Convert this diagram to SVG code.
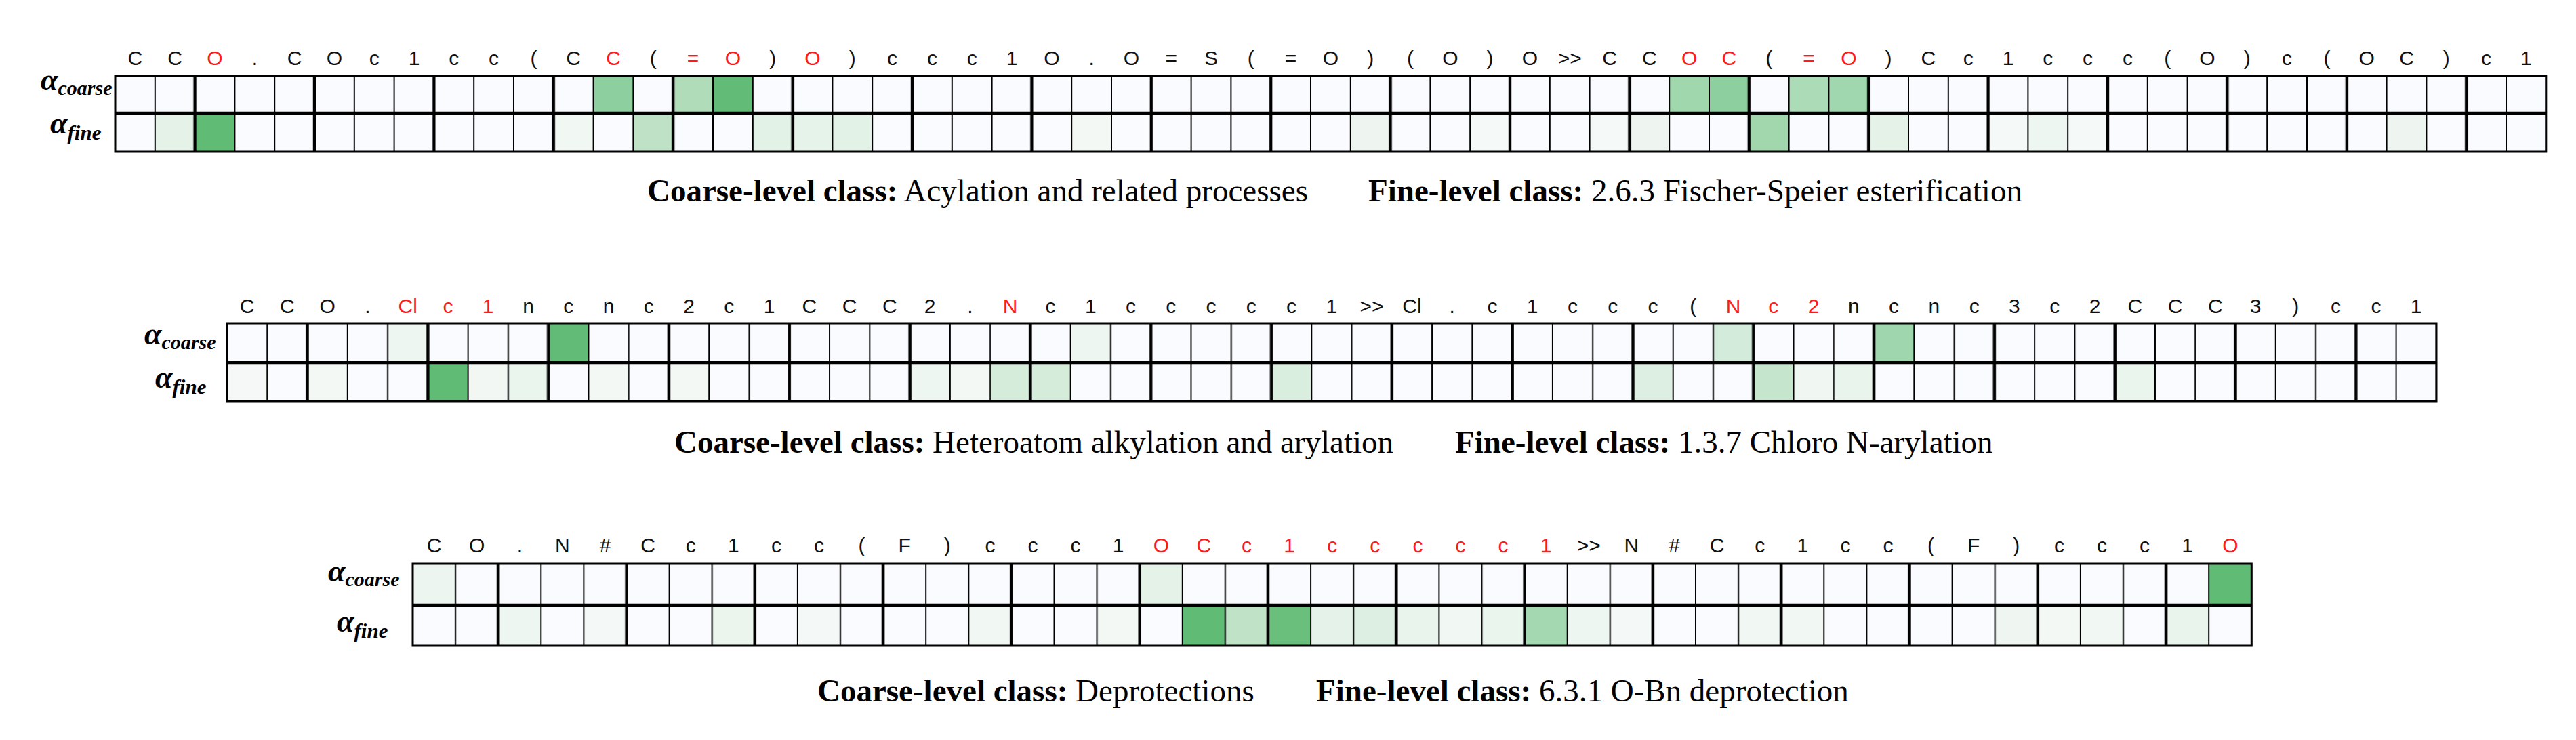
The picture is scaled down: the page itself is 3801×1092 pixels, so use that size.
<svg xmlns="http://www.w3.org/2000/svg" width="3801" height="1092" viewBox="0 0 3801 1092">
<style>
.tok{font-family:"Liberation Sans",Arial,sans-serif;font-size:30px;fill:#111;text-anchor:middle}
.r{fill:#ff1a1a}
.cap{font-family:"Liberation Serif","Times New Roman",serif;font-size:47px;fill:#000}
.b{font-weight:bold}
.al{font-family:"Liberation Serif","Times New Roman",serif;font-weight:bold;font-style:italic;font-size:46px;fill:#000}
.sub{font-family:"Liberation Serif","Times New Roman",serif;font-style:italic;font-size:30px;fill:#000}
.bg{fill:#fafbfe}
.frame{fill:none;stroke:#000;stroke-width:3}
.mid{stroke:#000;stroke-width:4.5}
</style>
<defs>
<pattern id="p1" patternUnits="userSpaceOnUse" x="170" y="0" width="176.4" height="10"><rect x="0" y="0" width="1" height="10"/><rect x="57.8" y="0" width="2" height="10"/><rect x="115.4" y="0" width="4.4" height="10"/><rect x="175.4" y="0" width="1" height="10"/></pattern>
<pattern id="p2" patternUnits="userSpaceOnUse" x="335" y="0" width="177.81" height="10"><rect x="0" y="0" width="1" height="10"/><rect x="58.27" y="0" width="2" height="10"/><rect x="116.34" y="0" width="4.4" height="10"/><rect x="176.81" y="0" width="1" height="10"/></pattern>
<pattern id="p3" patternUnits="userSpaceOnUse" x="609" y="0" width="189.3" height="10"><rect x="0" y="0" width="1" height="10"/><rect x="62.1" y="0" width="2" height="10"/><rect x="124" y="0" width="4.4" height="10"/><rect x="188.3" y="0" width="1" height="10"/></pattern>
</defs>
<rect width="3801" height="1092" fill="#fff"/>

<g id="row1">
<text class="al" x="60" y="133">α<tspan class="sub" dy="7" textLength="80" lengthAdjust="spacingAndGlyphs">coarse</tspan></text>
<text class="al" x="74" y="197">α<tspan class="sub" dy="9" textLength="50" lengthAdjust="spacingAndGlyphs">fine</tspan></text>
<rect class="bg" x="170" y="112" width="3586.8" height="112"/>
<g id="r1c">
<rect x="875.6" y="112" width="58.8" height="55" fill="#8ecf9f"/>
<rect x="993.2" y="112" width="58.8" height="55" fill="#b0dcb9"/>
<rect x="1052" y="112" width="58.8" height="55" fill="#62bc77"/>
<rect x="2463.2" y="112" width="58.8" height="55" fill="#a0d7ad"/>
<rect x="2522" y="112" width="58.8" height="55" fill="#8dcf9e"/>
<rect x="2639.6" y="112" width="58.8" height="55" fill="#acdbb7"/>
<rect x="2698.4" y="112" width="58.8" height="55" fill="#a1d7ae"/>
</g>
<g id="r1f">
<rect x="228.8" y="167" width="58.8" height="57" fill="#e4f2e8"/>
<rect x="287.6" y="167" width="58.8" height="57" fill="#60bb75"/>
<rect x="816.8" y="167" width="58.8" height="57" fill="#f1f7f3"/>
<rect x="934.4" y="167" width="58.8" height="57" fill="#bfe2c7"/>
<rect x="1110.8" y="167" width="58.8" height="57" fill="#e3f2e7"/>
<rect x="1169.6" y="167" width="58.8" height="57" fill="#e6f3ea"/>
<rect x="1228.4" y="167" width="58.8" height="57" fill="#e3f2e7"/>
<rect x="1581.2" y="167" width="58.8" height="57" fill="#f3f8f5"/>
<rect x="1992.8" y="167" width="58.8" height="57" fill="#eef5f0"/>
<rect x="2169.2" y="167" width="58.8" height="57" fill="#f5f9f7"/>
<rect x="2345.6" y="167" width="58.8" height="57" fill="#f5f9f7"/>
<rect x="2404.4" y="167" width="58.8" height="57" fill="#eef5f0"/>
<rect x="2580.8" y="167" width="58.8" height="57" fill="#a2d7ae"/>
<rect x="2757.2" y="167" width="58.8" height="57" fill="#e4f2e8"/>
<rect x="2933.6" y="167" width="58.8" height="57" fill="#f5f9f7"/>
<rect x="2992.4" y="167" width="58.8" height="57" fill="#eef6f1"/>
<rect x="3051.2" y="167" width="58.8" height="57" fill="#f5f9f7"/>
<rect x="3521.6" y="167" width="58.8" height="57" fill="#eef5f0"/>
</g>
<rect x="170" y="112" width="3586.8" height="112" fill="url(#p1)"/>
<line class="mid" x1="170" y1="167" x2="3756.8" y2="167"/>
<rect class="frame" x="170" y="112" width="3586.8" height="112"/>
<text class="tok" y="96"><tspan x="199.4">C</tspan><tspan x="258.2">C</tspan><tspan x="317" class="r">O</tspan><tspan x="375.8">.</tspan><tspan x="434.6">C</tspan><tspan x="493.4">O</tspan><tspan x="552.2">c</tspan><tspan x="611">1</tspan><tspan x="669.8">c</tspan><tspan x="728.6">c</tspan><tspan x="787.4">(</tspan><tspan x="846.2">C</tspan><tspan x="905" class="r">C</tspan><tspan x="963.8">(</tspan><tspan x="1022.6" class="r">=</tspan><tspan x="1081.4" class="r">O</tspan><tspan x="1140.2">)</tspan><tspan x="1199" class="r">O</tspan><tspan x="1257.8">)</tspan><tspan x="1316.6">c</tspan><tspan x="1375.4">c</tspan><tspan x="1434.2">c</tspan><tspan x="1493">1</tspan><tspan x="1551.8">O</tspan><tspan x="1610.6">.</tspan><tspan x="1669.4">O</tspan><tspan x="1728.2">=</tspan><tspan x="1787">S</tspan><tspan x="1845.8">(</tspan><tspan x="1904.6">=</tspan><tspan x="1963.4">O</tspan><tspan x="2022.2">)</tspan><tspan x="2081">(</tspan><tspan x="2139.8">O</tspan><tspan x="2198.6">)</tspan><tspan x="2257.4">O</tspan><tspan x="2316.2">&gt;&gt;</tspan><tspan x="2375">C</tspan><tspan x="2433.8">C</tspan><tspan x="2492.6" class="r">O</tspan><tspan x="2551.4" class="r">C</tspan><tspan x="2610.2">(</tspan><tspan x="2669" class="r">=</tspan><tspan x="2727.8" class="r">O</tspan><tspan x="2786.6">)</tspan><tspan x="2845.4">C</tspan><tspan x="2904.2">c</tspan><tspan x="2963">1</tspan><tspan x="3021.8">c</tspan><tspan x="3080.6">c</tspan><tspan x="3139.4">c</tspan><tspan x="3198.2">(</tspan><tspan x="3257">O</tspan><tspan x="3315.8">)</tspan><tspan x="3374.6">c</tspan><tspan x="3433.4">(</tspan><tspan x="3492.2">O</tspan><tspan x="3551">C</tspan><tspan x="3609.8">)</tspan><tspan x="3668.6">c</tspan><tspan x="3727.4">1</tspan></text>
<text class="cap" x="955" y="297"><tspan class="b">Coarse-level class:</tspan> Acylation and related processes</text>
<text class="cap" x="2019" y="297"><tspan class="b">Fine-level class:</tspan> 2.6.3 Fischer-Speier esterification</text>
</g>

<g id="row2">
<text class="al" x="213" y="508">α<tspan class="sub" dy="7" textLength="80" lengthAdjust="spacingAndGlyphs">coarse</tspan></text>
<text class="al" x="229" y="572">α<tspan class="sub" dy="9" textLength="50" lengthAdjust="spacingAndGlyphs">fine</tspan></text>
<rect class="bg" x="335" y="477" width="3260" height="115"/>
<rect x="572.1" y="477" width="59.27" height="58" fill="#eef6f1"/>
<rect x="809.2" y="477" width="59.27" height="58" fill="#62bc77"/>
<rect x="1579.7" y="477" width="59.27" height="58" fill="#eef6f1"/>
<rect x="2528" y="477" width="59.27" height="58" fill="#d3ebda"/>
<rect x="2765" y="477" width="59.27" height="58" fill="#9fd6ad"/>
<rect x="335" y="535" width="59.27" height="57" fill="#f5f8f7"/>
<rect x="453.6" y="535" width="59.27" height="57" fill="#f3f8f5"/>
<rect x="631.4" y="535" width="59.27" height="57" fill="#60bb75"/>
<rect x="690.6" y="535" width="59.27" height="57" fill="#f2f7f4"/>
<rect x="749.9" y="535" width="59.27" height="57" fill="#eaf5ee"/>
<rect x="868.4" y="535" width="59.27" height="57" fill="#f3f8f5"/>
<rect x="987" y="535" width="59.27" height="57" fill="#f3f8f5"/>
<rect x="1342.6" y="535" width="59.27" height="57" fill="#eef6f1"/>
<rect x="1401.9" y="535" width="59.27" height="57" fill="#f3f8f5"/>
<rect x="1461.1" y="535" width="59.27" height="57" fill="#d5ecdb"/>
<rect x="1520.4" y="535" width="59.27" height="57" fill="#d5ecdb"/>
<rect x="1876" y="535" width="59.27" height="57" fill="#d9eedf"/>
<rect x="2409.4" y="535" width="59.27" height="57" fill="#dcefe2"/>
<rect x="2587.2" y="535" width="59.27" height="57" fill="#c5e5cd"/>
<rect x="2646.5" y="535" width="59.27" height="57" fill="#f0f7f3"/>
<rect x="2705.8" y="535" width="59.27" height="57" fill="#e8f4ec"/>
<rect x="3120.7" y="535" width="59.27" height="57" fill="#eaf5ee"/>
<rect x="335" y="477" width="3260" height="115" fill="url(#p2)"/>
<line class="mid" x1="335" y1="535" x2="3595" y2="535"/>
<rect class="frame" x="335" y="477" width="3260" height="115"/>
<text class="tok" y="462"><tspan x="364.6">C</tspan><tspan x="423.9">C</tspan><tspan x="483.2">O</tspan><tspan x="542.4">.</tspan><tspan x="601.7" class="r">Cl</tspan><tspan x="661" class="r">c</tspan><tspan x="720.2" class="r">1</tspan><tspan x="779.5">n</tspan><tspan x="838.8">c</tspan><tspan x="898">n</tspan><tspan x="957.3">c</tspan><tspan x="1016.6">2</tspan><tspan x="1075.8">c</tspan><tspan x="1135.1">1</tspan><tspan x="1194.4">C</tspan><tspan x="1253.6">C</tspan><tspan x="1312.9">C</tspan><tspan x="1372.2">2</tspan><tspan x="1431.5">.</tspan><tspan x="1490.7" class="r">N</tspan><tspan x="1550">c</tspan><tspan x="1609.3">1</tspan><tspan x="1668.5">c</tspan><tspan x="1727.8">c</tspan><tspan x="1787.1">c</tspan><tspan x="1846.3">c</tspan><tspan x="1905.6">c</tspan><tspan x="1964.9">1</tspan><tspan x="2024.1">&gt;&gt;</tspan><tspan x="2083.4">Cl</tspan><tspan x="2142.7">.</tspan><tspan x="2202">c</tspan><tspan x="2261.2">1</tspan><tspan x="2320.5">c</tspan><tspan x="2379.8">c</tspan><tspan x="2439">c</tspan><tspan x="2498.3">(</tspan><tspan x="2557.6" class="r">N</tspan><tspan x="2616.8" class="r">c</tspan><tspan x="2676.1" class="r">2</tspan><tspan x="2735.4">n</tspan><tspan x="2794.6">c</tspan><tspan x="2853.9">n</tspan><tspan x="2913.2">c</tspan><tspan x="2972.4">3</tspan><tspan x="3031.7">c</tspan><tspan x="3091">2</tspan><tspan x="3150.3">C</tspan><tspan x="3209.5">C</tspan><tspan x="3268.8">C</tspan><tspan x="3328.1">3</tspan><tspan x="3387.3">)</tspan><tspan x="3446.6">c</tspan><tspan x="3505.9">c</tspan><tspan x="3565.1">1</tspan></text>
<text class="cap" x="995" y="668"><tspan class="b">Coarse-level class:</tspan> Heteroatom alkylation and arylation</text>
<text class="cap" x="2147" y="668"><tspan class="b">Fine-level class:</tspan> 1.3.7 Chloro N-arylation</text>
</g>

<g id="row3">
<text class="al" x="484" y="858">α<tspan class="sub" dy="7" textLength="80" lengthAdjust="spacingAndGlyphs">coarse</tspan></text>
<text class="al" x="497" y="932">α<tspan class="sub" dy="9" textLength="50" lengthAdjust="spacingAndGlyphs">fine</tspan></text>
<rect class="bg" x="609" y="832" width="2713.3" height="121"/>
<rect x="609" y="832" width="63.1" height="61" fill="#ecf5ef"/>
<rect x="1681.8" y="832" width="63.1" height="61" fill="#e4f2e8"/>
<rect x="3259.2" y="832" width="63.1" height="61" fill="#60bb75"/>
<rect x="735.2" y="893" width="63.1" height="60" fill="#eef6f1"/>
<rect x="861.4" y="893" width="63.1" height="60" fill="#f4f8f6"/>
<rect x="1050.8" y="893" width="63.1" height="60" fill="#ebf5ee"/>
<rect x="1177" y="893" width="63.1" height="60" fill="#f4f8f6"/>
<rect x="1429.4" y="893" width="63.1" height="60" fill="#f1f7f3"/>
<rect x="1618.6" y="893" width="63.1" height="60" fill="#f3f8f5"/>
<rect x="1744.8" y="893" width="63.1" height="60" fill="#60bb75"/>
<rect x="1808" y="893" width="63.1" height="60" fill="#c0e3c8"/>
<rect x="1871" y="893" width="63.1" height="60" fill="#6abf7d"/>
<rect x="1934.2" y="893" width="63.1" height="60" fill="#e5f2e9"/>
<rect x="1997.2" y="893" width="63.1" height="60" fill="#dcefe2"/>
<rect x="2060.4" y="893" width="63.1" height="60" fill="#e8f4ec"/>
<rect x="2123.4" y="893" width="63.1" height="60" fill="#f1f7f3"/>
<rect x="2186.6" y="893" width="63.1" height="60" fill="#eaf5ee"/>
<rect x="2249.6" y="893" width="63.1" height="60" fill="#a4d8b0"/>
<rect x="2312.8" y="893" width="63.1" height="60" fill="#eef6f1"/>
<rect x="2375.8" y="893" width="63.1" height="60" fill="#f4f8f6"/>
<rect x="2565.2" y="893" width="63.1" height="60" fill="#f1f7f3"/>
<rect x="2628.2" y="893" width="63.1" height="60" fill="#f1f7f3"/>
<rect x="2943.8" y="893" width="63.1" height="60" fill="#eff6f1"/>
<rect x="3006.8" y="893" width="63.1" height="60" fill="#f3f8f5"/>
<rect x="3070" y="893" width="63.1" height="60" fill="#f1f7f3"/>
<rect x="3196.2" y="893" width="63.1" height="60" fill="#e8f4ec"/>
<rect x="609" y="832" width="2713.3" height="121" fill="url(#p3)"/>
<line class="mid" x1="609" y1="893" x2="3322.3" y2="893"/>
<rect class="frame" x="609" y="832" width="2713.3" height="121"/>
<text class="tok" y="815"><tspan x="640.6">C</tspan><tspan x="703.7">O</tspan><tspan x="766.8">.</tspan><tspan x="829.9">N</tspan><tspan x="893">#</tspan><tspan x="956.1">C</tspan><tspan x="1019.2">c</tspan><tspan x="1082.3">1</tspan><tspan x="1145.4">c</tspan><tspan x="1208.5">c</tspan><tspan x="1271.6">(</tspan><tspan x="1334.7">F</tspan><tspan x="1397.8">)</tspan><tspan x="1460.9">c</tspan><tspan x="1524">c</tspan><tspan x="1587.1">c</tspan><tspan x="1650.2">1</tspan><tspan x="1713.3" class="r">O</tspan><tspan x="1776.4" class="r">C</tspan><tspan x="1839.5" class="r">c</tspan><tspan x="1902.6" class="r">1</tspan><tspan x="1965.7" class="r">c</tspan><tspan x="2028.8" class="r">c</tspan><tspan x="2091.9" class="r">c</tspan><tspan x="2155" class="r">c</tspan><tspan x="2218.1" class="r">c</tspan><tspan x="2281.2" class="r">1</tspan><tspan x="2344.3">&gt;&gt;</tspan><tspan x="2407.4">N</tspan><tspan x="2470.5">#</tspan><tspan x="2533.6">C</tspan><tspan x="2596.7">c</tspan><tspan x="2659.8">1</tspan><tspan x="2722.9">c</tspan><tspan x="2786">c</tspan><tspan x="2849.1">(</tspan><tspan x="2912.2">F</tspan><tspan x="2975.3">)</tspan><tspan x="3038.4">c</tspan><tspan x="3101.5">c</tspan><tspan x="3164.6">c</tspan><tspan x="3227.7">1</tspan><tspan x="3290.8" class="r">O</tspan></text>
<text class="cap" x="1206" y="1035"><tspan class="b">Coarse-level class:</tspan> Deprotections</text>
<text class="cap" x="1942" y="1035"><tspan class="b">Fine-level class:</tspan> 6.3.1 O-Bn deprotection</text>
</g>
</svg>
